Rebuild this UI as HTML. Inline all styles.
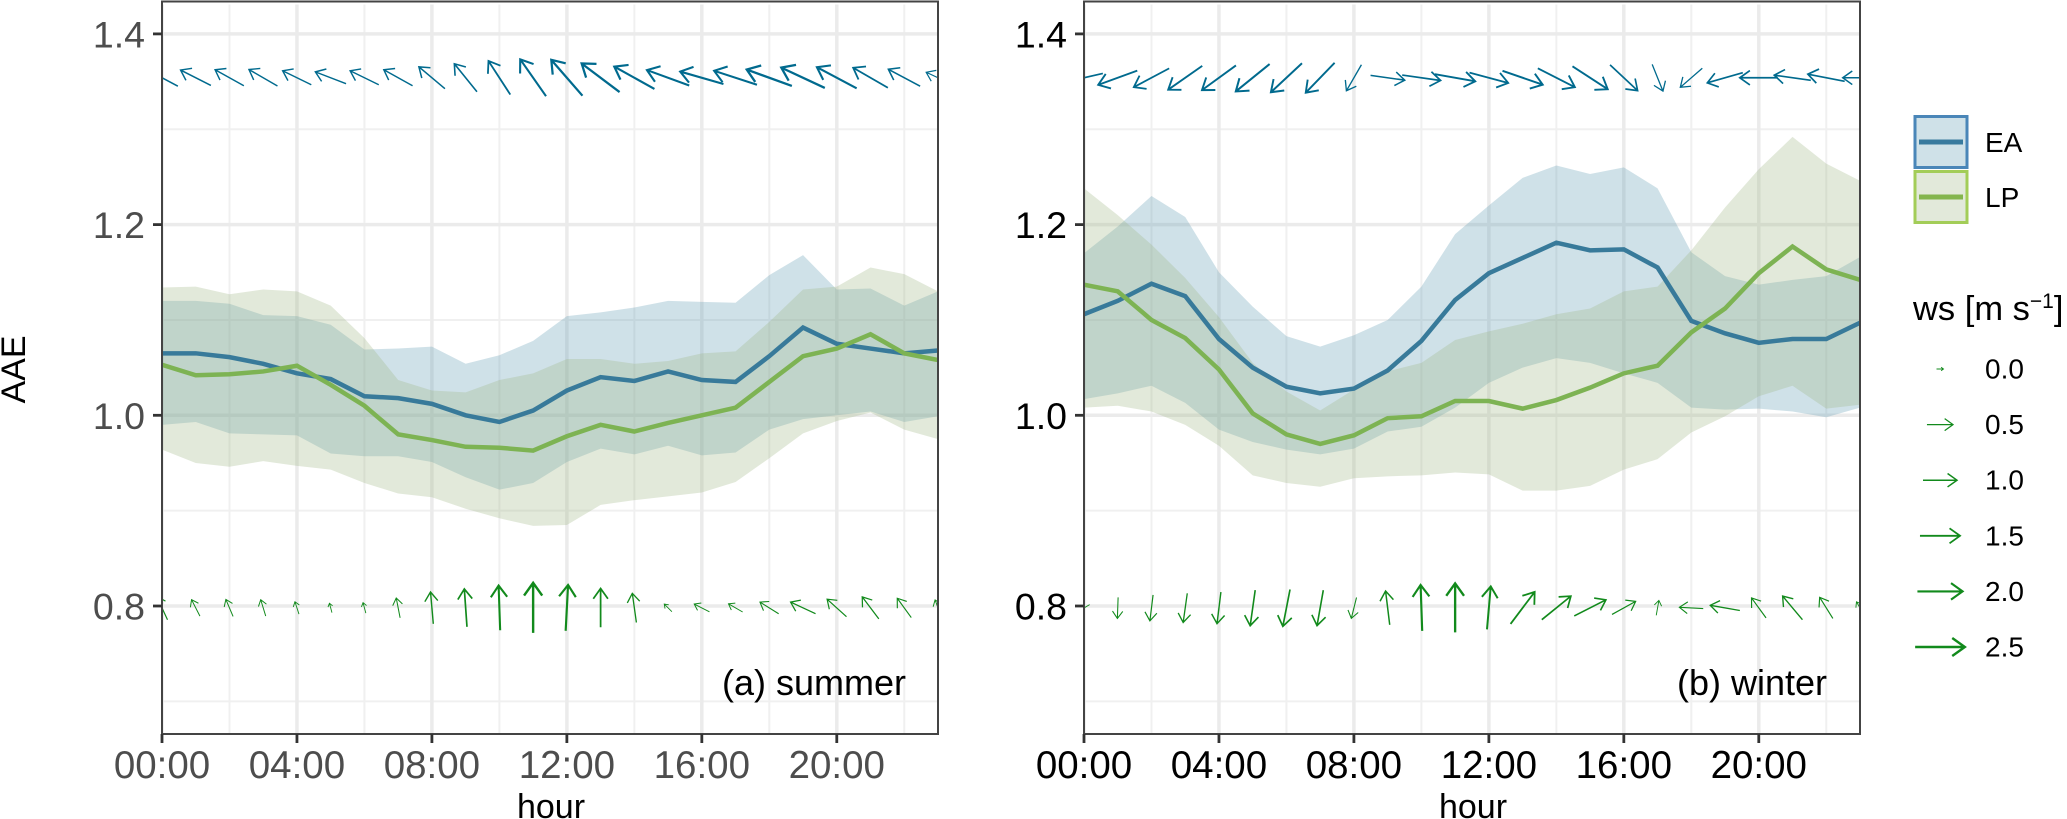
<!DOCTYPE html>
<html>
<head>
<meta charset="utf-8">
<title>AAE diurnal cycle</title>
<style>
html,body{margin:0;padding:0;background:#fff;}
svg{display:block;}
text{font-family:"Liberation Sans",Arial,sans-serif;}
</style>
</head>
<body>
<svg id="chart" width="2067" height="819" viewBox="0 0 2067 819" xmlns="http://www.w3.org/2000/svg">
  <rect width="2067" height="819" fill="#fff"/>
  <text transform="translate(25,369.5) rotate(-90)" text-anchor="middle" font-size="34" fill="#000">AAE</text>
  <g>
    <g>
      <rect x="1915" y="116.5" width="52" height="51" fill="#cfe1e8" stroke="#4a86b8" stroke-width="3"/>
      <line x1="1919" x2="1963" y1="142" y2="142" stroke="#387a9e" stroke-width="5"/>
      <text x="1985" y="152" font-size="28" fill="#000">EA</text>
    </g>
    <g>
      <rect x="1915" y="171.5" width="52" height="51" fill="#e2e9da" stroke="#a3cd58" stroke-width="3"/>
      <line x1="1919" x2="1963" y1="197" y2="197" stroke="#84b54e" stroke-width="5"/>
      <text x="1985" y="207" font-size="28" fill="#000">LP</text>
    </g>
  </g>
  <text x="1913" y="320" font-size="34.5" fill="#000">ws [m s<tspan font-size="21" dy="-12">−1</tspan><tspan dy="12">]</tspan></text>
</svg>
<script>
// ---------- Data ----------
const hours = [0,1,2,3,4,5,6,7,8,9,10,11,12,13,14,15,16,17,18,19,20,21,22,23];
const yTicks = [0.8,1.0,1.2,1.4];
const yTickLabels = ['0.8','1.0','1.2','1.4'];
const yMinorGrid = [0.7,0.9,1.1,1.3];
const xTicks = [0,4,8,12,16,20];
const xTickLabels = ['00:00','04:00','08:00','12:00','16:00','20:00'];
const xMinorGrid = [2,6,10,14,18,22];
const legendSpeeds = [0,0.5,1,1.5,2,2.5];
const legendSpeedLabels = ['0.0','0.5','1.0','1.5','2.0','2.5'];

const summerEaMean = [1.065,1.065,1.061,1.054,1.044,1.038,1.020,1.018,1.012,1.000,0.993,1.005,1.026,1.040,1.036,1.046,1.037,1.035,1.062,1.092,1.075,1.070,1.065,1.068];
const summerEaUpper = [1.120,1.120,1.117,1.105,1.104,1.095,1.069,1.070,1.072,1.054,1.063,1.078,1.104,1.108,1.113,1.120,1.119,1.118,1.147,1.168,1.132,1.133,1.115,1.130];
const summerEaLower = [0.990,0.993,0.981,0.980,0.979,0.960,0.957,0.957,0.951,0.935,0.922,0.929,0.951,0.965,0.959,0.968,0.958,0.961,0.985,0.996,1.000,1.004,0.993,0.999];
const summerLpMean = [1.053,1.042,1.043,1.046,1.052,1.032,1.010,0.980,0.974,0.967,0.966,0.963,0.978,0.990,0.983,0.992,1.000,1.008,1.035,1.062,1.070,1.085,1.065,1.058];
const summerLpUpper = [1.134,1.135,1.127,1.132,1.130,1.115,1.081,1.037,1.026,1.024,1.037,1.044,1.059,1.059,1.054,1.057,1.065,1.067,1.098,1.132,1.135,1.155,1.148,1.130];
const summerLpLower = [0.964,0.950,0.946,0.952,0.947,0.943,0.929,0.918,0.914,0.902,0.892,0.884,0.885,0.906,0.911,0.915,0.919,0.930,0.955,0.981,0.994,1.003,0.985,0.975];

const winterEaMean = [1.106,1.120,1.138,1.125,1.080,1.050,1.030,1.023,1.028,1.047,1.078,1.121,1.149,1.165,1.181,1.173,1.174,1.155,1.099,1.086,1.076,1.080,1.080,1.097];
const winterEaUpper = [1.170,1.198,1.230,1.208,1.150,1.114,1.083,1.072,1.084,1.100,1.135,1.190,1.220,1.249,1.262,1.253,1.260,1.238,1.171,1.146,1.137,1.142,1.146,1.166];
const winterEaLower = [1.017,1.023,1.031,1.013,0.985,0.972,0.964,0.959,0.965,0.983,0.988,1.008,1.034,1.050,1.060,1.055,1.044,1.034,1.008,1.006,1.007,1.004,0.998,1.008];
const winterLpMean = [1.137,1.130,1.100,1.081,1.048,1.002,0.980,0.970,0.979,0.997,0.999,1.015,1.015,1.007,1.016,1.029,1.044,1.052,1.087,1.112,1.149,1.177,1.153,1.142];
const winterLpUpper = [1.238,1.210,1.179,1.144,1.103,1.055,1.025,1.005,1.027,1.046,1.055,1.079,1.088,1.096,1.106,1.112,1.130,1.135,1.173,1.218,1.258,1.292,1.264,1.246];
const winterLpLower = [1.008,1.010,1.004,0.990,0.968,0.937,0.929,0.925,0.934,0.936,0.937,0.940,0.938,0.921,0.921,0.926,0.943,0.954,0.982,0.999,1.020,1.031,1.007,1.011];

const summerTopSpeed = [1.15,1.0,0.92,0.92,0.85,0.92,0.85,0.92,1.0,1.15,1.5,1.98,2.25,2.25,2.08,1.98,1.98,1.98,2.31,2.31,1.98,1.5,1.15,0.5];
const summerTopDir = [152,153,151,150,154,159,154,151,140,129,123,125,131,143,151,160,164,162,160,155,152,150,152,155];
const summerBottomSpeed = [0.5,0.18,0.18,0.14,0.05,0.01,0.02,0.24,0.85,1.32,1.95,2.54,2.08,1.38,0.69,0.02,0.14,0.12,0.31,0.58,0.5,0.58,0.39,0.14];
const summerBottomDir = [115,117,113,107,108,105,105,101,95,94,92,90,87,90,98,135,153,150,148,155,138,127,126,110];
const winterTopSpeed = [1.38,1.64,1.5,1.64,1.68,1.83,1.73,1.64,0.73,1.04,1.38,1.58,1.5,1.73,1.64,1.68,1.29,0.65,0.67,1.23,1.32,1.23,1.28,1.04];
const winterTopDir = [193,200,208,215,216,219,223,226,240,-8,-8,-10,-15,-19,-27,-33,-43,-68,221,196,180,172,169,180];
const winterBottomSpeed = [0.05,0.27,0.5,0.69,0.85,1.15,1.28,1.15,0.29,1.0,2.08,2.42,1.79,1.5,1.27,1.12,0.55,0.09,0.39,0.73,0.43,0.78,0.44,0.07];
const winterBottomDir = [210,268,263,262,263,262,259,260,256,97,92,90,85,53,39,27,29,80,177,170,126,130,122,120];

const topArrowLevel = 1.354;
const bottomArrowLevel = 0.798;

// ---------- Scales and helpers ----------
const NS = 'http://www.w3.org/2000/svg';
const svg = document.getElementById('chart');
const plotTop = 1.5, plotBottom = 734, plotWidth = 776;
function yScale(v){ return 415.3 - (v - 1.0) * 953.5; }
function makeXScale(left){ return function(h){ return left + h * plotWidth / 23; }; }
function arrowLength(s){ return 7 + 27 * Math.sqrt(s); }
function arrowWidth(s){ return 0.9 + 0.6 * s; }
function make(tag, parent, attrs){
  const n = document.createElementNS(NS, tag);
  for (const k in attrs) n.setAttribute(k, attrs[k]);
  parent.appendChild(n);
  return n;
}
function pathFrom(xs, ys){
  return xs.map(function(x,i){ return (i ? 'L' : 'M') + x.toFixed(2) + ' ' + ys[i].toFixed(2); }).join(' ');
}
function drawArrow(parent, cx, cy, speed, dirDeg, color){
  const L = arrowLength(speed), a = dirDeg * Math.PI / 180;
  const ux = Math.cos(a), uy = -Math.sin(a);
  const x1 = cx - ux * L / 2, y1 = cy - uy * L / 2, x2 = cx + ux * L / 2, y2 = cy + uy * L / 2;
  const h = Math.min(0.42 * L, 9 + 2.6 * speed);
  const spread = 0.62;
  const ax = x2 - h * Math.cos(a - spread), ay = y2 + h * Math.sin(a - spread);
  const bx = x2 - h * Math.cos(a + spread), by = y2 + h * Math.sin(a + spread);
  const d = 'M' + x1.toFixed(2) + ' ' + y1.toFixed(2) + ' L' + x2.toFixed(2) + ' ' + y2.toFixed(2) +
            ' M' + ax.toFixed(2) + ' ' + ay.toFixed(2) + ' L' + x2.toFixed(2) + ' ' + y2.toFixed(2) + ' L' + bx.toFixed(2) + ' ' + by.toFixed(2);
  return make('path', parent, {d: d, fill: 'none', stroke: color, 'stroke-width': arrowWidth(speed).toFixed(2), 'stroke-linejoin': 'miter'});
}

// ---------- Panel ----------
function drawPanel(cfg){
  const x = makeXScale(cfg.left);
  const g = make('g', svg, {});
  
  

  const clip = make('clipPath', g, {id: cfg.name + '-clip'});
  make('rect', clip, {x: cfg.left, y: plotTop, width: plotWidth, height: plotBottom - plotTop});

  const inner = make('g', g, {'clip-path': 'url(#' + cfg.name + '-clip)'});

  yMinorGrid.forEach(function(v){
    const gl = make('line', inner, {x1: cfg.left, x2: cfg.left + plotWidth, y1: yScale(v), y2: yScale(v), stroke: '#f0f0f0', 'stroke-width': 2});
    
    
  });
  xMinorGrid.forEach(function(h){
    const gl = make('line', inner, {x1: x(h), x2: x(h), y1: plotTop + 3, y2: plotBottom, stroke: '#f0f0f0', 'stroke-width': 2});
    
    
  });
  yTicks.forEach(function(v){
    const gl = make('line', inner, {x1: cfg.left, x2: cfg.left + plotWidth, y1: yScale(v), y2: yScale(v), stroke: '#ebebeb', 'stroke-width': 3.5});
    
    
  });
  xTicks.forEach(function(h){
    const gl = make('line', inner, {x1: x(h), x2: x(h), y1: plotTop + 3, y2: plotBottom, stroke: '#ebebeb', 'stroke-width': 3.5});
    
    
  });

  const xs = hours.map(x);
  function band(upper, lower, color){
    const d = pathFrom(xs.concat(xs.slice().reverse()), upper.map(yScale).concat(lower.map(yScale).reverse())) + ' Z';
    return make('path', inner, {d: d, fill: color, 'fill-opacity': 0.3});
  }
  const eaBand = band(cfg.eaUpper, cfg.eaLower, '#5f9bb2');
  
  
  const lpBand = band(cfg.lpUpper, cfg.lpLower, '#9eb684');
  
  

  const eaLine = make('path', inner, {d: pathFrom(xs, cfg.eaMean.map(yScale)), fill: 'none', stroke: '#387a9a', 'stroke-width': 4.5, 'stroke-linejoin': 'miter'});
  
  
  const lpLine = make('path', inner, {d: pathFrom(xs, cfg.lpMean.map(yScale)), fill: 'none', stroke: '#7db353', 'stroke-width': 4.5, 'stroke-linejoin': 'miter'});
  
  

  const topGroup = make('g', inner, {});
  
  
  hours.forEach(function(h, i){
    const arrow = drawArrow(topGroup, x(h), yScale(topArrowLevel), cfg.topSpeed[i], cfg.topDir[i], '#006a8e');
    
    
  });
  const bottomGroup = make('g', inner, {});
  
  
  hours.forEach(function(h, i){
    const arrow = drawArrow(bottomGroup, x(h), yScale(bottomArrowLevel), cfg.bottomSpeed[i], cfg.bottomDir[i], '#128a1c');
    
    
  });

  const border = make('rect', g, {x: cfg.left, y: plotTop, width: plotWidth, height: plotBottom - plotTop, fill: 'none', stroke: '#444', 'stroke-width': 2});
  
  

  yTicks.forEach(function(v, i){
    const tick = make('line', g, {x1: cfg.left - 9, x2: cfg.left, y1: yScale(v), y2: yScale(v), stroke: '#333', 'stroke-width': 2.8});
    
    
    const label = make('text', g, {x: cfg.left - 17, y: yScale(v) + 13.5, 'text-anchor': 'end', 'font-size': 37.5, fill: cfg.labelColor});
    label.textContent = yTickLabels[i];
    
    
  });
  xTicks.forEach(function(h, i){
    const tick = make('line', g, {x1: x(h), x2: x(h), y1: plotBottom, y2: plotBottom + 9, stroke: '#333', 'stroke-width': 2.8});
    
    
    const label = make('text', g, {x: x(h), y: 778, 'text-anchor': 'middle', 'font-size': 38.5, fill: cfg.labelColor});
    label.textContent = xTickLabels[i];
    
    
  });

  const xTitle = make('text', g, {x: cfg.left + plotWidth / 2 + 1, y: 818, 'text-anchor': 'middle', 'font-size': 34, fill: '#000'});
  xTitle.textContent = 'hour';
  
  

  const tag = make('text', g, {x: cfg.tagX, y: 695, 'text-anchor': 'end', 'font-size': 36, fill: '#000'});
  tag.textContent = cfg.tag;
  
  
}

drawPanel({name:'summer-panel', left:162, labelColor:'#4d4d4d', tag:'(a) summer', tagX:906,
  eaMean:summerEaMean, eaUpper:summerEaUpper, eaLower:summerEaLower,
  lpMean:summerLpMean, lpUpper:summerLpUpper, lpLower:summerLpLower,
  topSpeed:summerTopSpeed, topDir:summerTopDir, bottomSpeed:summerBottomSpeed, bottomDir:summerBottomDir});
drawPanel({name:'winter-panel', left:1084, labelColor:'#000', tag:'(b) winter', tagX:1827,
  eaMean:winterEaMean, eaUpper:winterEaUpper, eaLower:winterEaLower,
  lpMean:winterLpMean, lpUpper:winterLpUpper, lpLower:winterLpLower,
  topSpeed:winterTopSpeed, topDir:winterTopDir, bottomSpeed:winterBottomSpeed, bottomDir:winterBottomDir});

// ---------- Wind-speed legend ----------
const windLegend = make('g', svg, {});


legendSpeeds.forEach(function(s, i){
  const rowY = 369 + i * 55.6;
  const arrow = drawArrow(windLegend, 1940, rowY, s, 0, '#128a1c');
  
  
  const label = make('text', windLegend, {x: 1985, y: rowY + 9.5, 'font-size': 28, fill: '#000'});
  label.textContent = legendSpeedLabels[i];
  
  
});
</script>
</body>
</html>
